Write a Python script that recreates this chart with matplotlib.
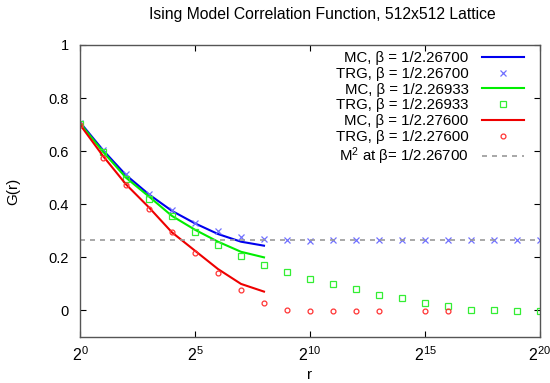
import numpy as np
import matplotlib
matplotlib.use("Agg")
import matplotlib.pyplot as plt

plt.rcParams['font.family'] = ['Liberation Sans', 'DejaVu Sans']
plt.rcParams['mathtext.fontset'] = 'custom'
plt.rcParams['mathtext.rm'] = 'Liberation Sans'
plt.rcParams['mathtext.it'] = 'Liberation Sans'

# MC data (r = 2^0 .. 2^8)
r_mc = [1, 2, 4, 8, 16, 32, 64, 128, 256]
mc_2670 = [0.709, 0.604, 0.510, 0.437, 0.375, 0.328, 0.288, 0.259, 0.244]
mc_2693 = [0.705, 0.598, 0.500, 0.429, 0.356, 0.304, 0.259, 0.221, 0.200]
mc_2760 = [0.700, 0.582, 0.475, 0.388, 0.294, 0.225, 0.156, 0.100, 0.071]

# TRG data
r_trg = [2**k for k in range(21)]
trg_2670 = [0.708, 0.606, 0.513, 0.438, 0.378, 0.331, 0.300, 0.278, 0.269, 0.265,
            0.261, 0.264, 0.265, 0.265, 0.265, 0.265, 0.265, 0.265, 0.265, 0.265, 0.265]
trg_2693 = [0.703, 0.596, 0.497, 0.421, 0.354, 0.294, 0.246, 0.206, 0.171, 0.145,
            0.120, 0.099, 0.080, 0.059, 0.046, 0.028, 0.016, 0.003, 0.001, -0.002, -0.002]
r_trg_c = [2**k for k in [0, 1, 2, 3, 4, 5, 6, 7, 8, 9, 10, 11, 12, 13, 15, 16]]
trg_2760 = [0.698, 0.575, 0.471, 0.381, 0.294, 0.215, 0.140, 0.078, 0.027, 0.003,
            -0.002, -0.002, -0.002, -0.002, -0.002, -0.002]

m2_level = 0.266

xtick_exp = [0, 5, 10, 15, 20]
yticks = [0, 0.2, 0.4, 0.6, 0.8, 1]
ytick_labels = ['0', '0.2', '0.4', '0.6', '0.8', '1']

fig = plt.figure(figsize=(5.5, 3.83), dpi=100)
ax = fig.add_axes([80/550, 1-337/383, 460/550, 292/383])

ax.plot(r_mc, mc_2670, color='#0000ee', lw=1.5, label=r'MC, β = 1/2.26700')
ax.plot(r_trg, trg_2670, ls='none', marker='x', ms=4.5, mew=0.9, color='#7070ff',
        label=r'TRG, β = 1/2.26700')
ax.plot(r_mc, mc_2693, color='#00ee00', lw=1.5, label=r'MC, β = 1/2.26933')
ax.plot(r_trg, trg_2693, ls='none', marker='s', ms=4.5, mew=0.9, mfc='none', color='#33ee33',
        label=r'TRG, β = 1/2.26933')
ax.plot(r_mc, mc_2760, color='#ee0000', lw=1.5, label=r'MC, β = 1/2.27600')
ax.plot(r_trg_c, trg_2760, ls='none', marker='o', ms=3.5, mew=0.9, mfc='none', color='#ff3333',
        label=r'TRG, β = 1/2.27600')
ax.axhline(m2_level, color='#999999', ls=(0, (3, 3)), lw=1.2,
           label=r'M$^2$ at β= 1/2.26700')

ax.set_xscale('log', base=2)
ax.set_xlim(2**0, 2**20)
ax.set_ylim(-0.1, 1)
ax.set_xticks([2**e for e in xtick_exp])
ax.set_xticklabels([r'$2^{%d}$' % e for e in xtick_exp], fontsize=11.5)
ax.xaxis.set_minor_locator(matplotlib.ticker.NullLocator())
ax.set_yticks(yticks)
ax.set_yticklabels(ytick_labels, fontsize=10.5)
ax.tick_params(direction='in', top=True, right=True, length=4, width=0.8, pad=8)
ax.tick_params(axis='x', pad=6)
for s in ax.spines.values():
    s.set_color('#555555')
    s.set_linewidth(1.0)

fig.text(322/550, 1-15/383, 'Ising Model Correlation Function, 512x512 Lattice',
         fontsize=11.3, ha='center', va='center')
ax.set_xlabel('r', fontsize=11, labelpad=3)
ax.set_ylabel('G(r)', fontsize=11, labelpad=20)

leg = ax.legend(loc='upper right', bbox_to_anchor=(0.985, 1.01), frameon=False,
                markerfirst=False, fontsize=10.8, handlelength=2.8, handletextpad=0.9,
                labelspacing=0.12, borderaxespad=0.2, numpoints=1)

fig.savefig('out.png', dpi=100)
